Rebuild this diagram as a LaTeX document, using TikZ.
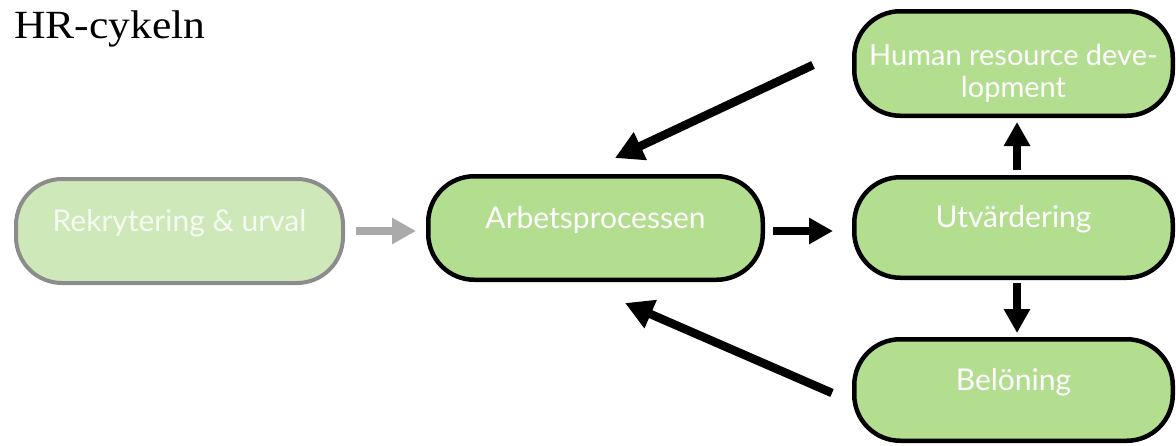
\documentclass[tikz,border=0pt]{standalone}
\usepackage{fontspec}
\setmainfont{Liberation Serif}
\newfontfamily\boxfont{Lato}
\usetikzlibrary{arrows.meta}
\definecolor{boxgreen}{RGB}{179,222,143}
\definecolor{lightgreen}{RGB}{206,232,186}
\definecolor{lighttext}{RGB}{246,251,242}
\definecolor{grayborder}{RGB}{140,140,140}
\definecolor{grayarrow}{RGB}{170,170,170}
\begin{document}
\begin{tikzpicture}[x=1pt,y=-1pt,
  box/.style={draw=black, line width=4.5pt, fill=boxgreen, rounded corners=46pt,
    text=white, font=\boxfont\fontsize{30}{34}\selectfont, align=center,
    inner sep=0pt},
  onebox/.style={box, text height=10pt, text depth=10pt},
  fadedbox/.style={onebox, draw=grayborder, line width=4pt, fill=lightgreen, text=lighttext},
  arr/.style={line width=7.5pt, -{Triangle[width=25pt,length=24pt]}},
  diagarr/.style={line width=8.5pt, -{Triangle[width=29pt,length=28pt]}},
  grayarr/.style={arr, draw=grayarrow}
]
\useasboundingbox (0,0) rectangle (1176,445);
\node[anchor=base west, font=\fontsize{40}{40}\selectfont, inner sep=0pt] (title) at (14,38) {\scalebox{1.09}[1]{HR-cykeln}};

\node[fadedbox, minimum width=327pt, minimum height=104pt] (rek) at (179.5,231) {Rekrytering \& urval};
\node[onebox, minimum width=334.5pt, minimum height=103.5pt] (arb) at (595.5,228) {Arbetsprocessen};
\node[onebox, minimum width=318.5pt, minimum height=100.5pt] (utv) at (1013.5,227.5) {Utvärdering};
\node[box, minimum width=318.5pt, minimum height=104.5pt, font=\boxfont\fontsize{29}{32}\selectfont,
  text height=74pt, text depth=7pt] (hrd) at (1013.5,63.5) {Human resource deve-\\lopment};
\node[onebox, minimum width=318.5pt, minimum height=101.5pt] (bel) at (1013.5,390) {Belöning};

\coordinate (d1s) at (813,65);
\coordinate (d1e) at (615,158);
\coordinate (d2s) at (832,393);
\coordinate (d2e) at (625,303);

\draw[grayarr, shorten <=11pt, shorten >=10pt] (rek.east) -- (rek.east -| arb.west);
\draw[arr, shorten <=8pt, shorten >=19pt] ([yshift=-3pt]arb.east) -- ([yshift=-3pt]arb.east -| utv.west);
\draw[arr, shorten <=5pt, shorten >=4pt] ([xshift=3.5pt]utv.north) -- ([xshift=3.5pt]hrd.south);
\draw[arr, shorten <=3pt, shorten >=4pt] ([xshift=3.5pt]utv.south) -- ([xshift=3.5pt]bel.north);
\draw[diagarr] (d1s) -- (d1e);
\draw[diagarr] (d2s) -- (d2e);
\end{tikzpicture}
\end{document}
